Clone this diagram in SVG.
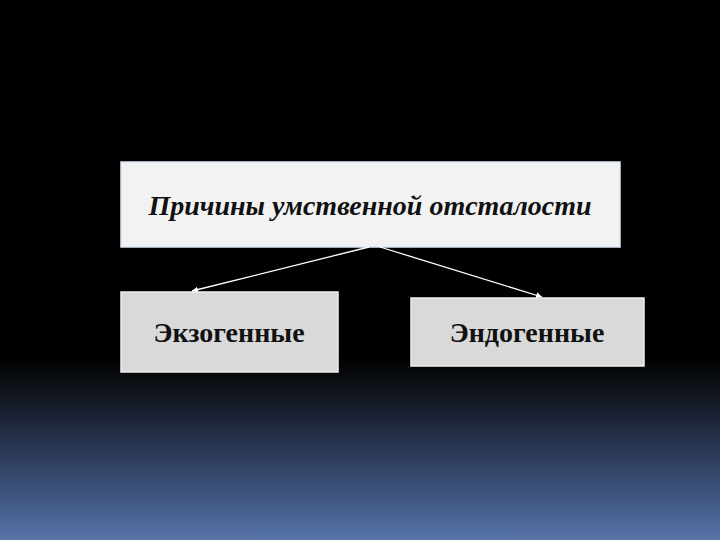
<svg xmlns="http://www.w3.org/2000/svg" width="720" height="540" viewBox="0 0 720 540">
<defs>
<linearGradient id="bg" x1="0" y1="0" x2="0" y2="1">
<stop offset="0" stop-color="#000000"/>
<stop offset="0.66" stop-color="#000000"/>
<stop offset="0.72" stop-color="#0e1219"/>
<stop offset="0.82" stop-color="#27334f"/>
<stop offset="0.92" stop-color="#3f5680"/>
<stop offset="1" stop-color="#5874a8"/>
</linearGradient>
<marker id="arr" markerWidth="8" markerHeight="8" refX="6" refY="3" orient="auto" markerUnits="userSpaceOnUse">
<path d="M0,0 L6,3 L0,6 Z" fill="#ffffff"/>
</marker>
<style>
.box{stroke-width:1.5}
.t{font-family:"Liberation Serif","Times New Roman",serif;font-weight:bold;fill:#111;text-anchor:middle}
.c{stroke:#ffffff;stroke-width:1.3;fill:none;marker-end:url(#arr)}
</style>
</defs>
<rect width="720" height="540" fill="url(#bg)"/>
<g id="root">
<rect class="box" x="121" y="162" width="499" height="85" fill="#f2f2f2" stroke="#dbe8f4"/>
<text class="t" x="370" y="215" font-size="28" font-style="italic">Причины умственной отсталости</text>
</g>
<g id="exo">
<rect class="box" x="121" y="292" width="217" height="80" fill="#d9d9d9" stroke="#eeeeee"/>
<text class="t" x="229" y="342" font-size="28">Экзогенные</text>
</g>
<g id="endo">
<rect class="box" x="411" y="298" width="233" height="68" fill="#d9d9d9" stroke="#eeeeee"/>
<text class="t" x="527" y="342" font-size="28">Эндогенные</text>
</g>
<g id="connectors">
<line class="c" x1="369" y1="247" x2="192" y2="291"/>
<line class="c" x1="380" y1="247" x2="542" y2="297"/>
</g>
</svg>
